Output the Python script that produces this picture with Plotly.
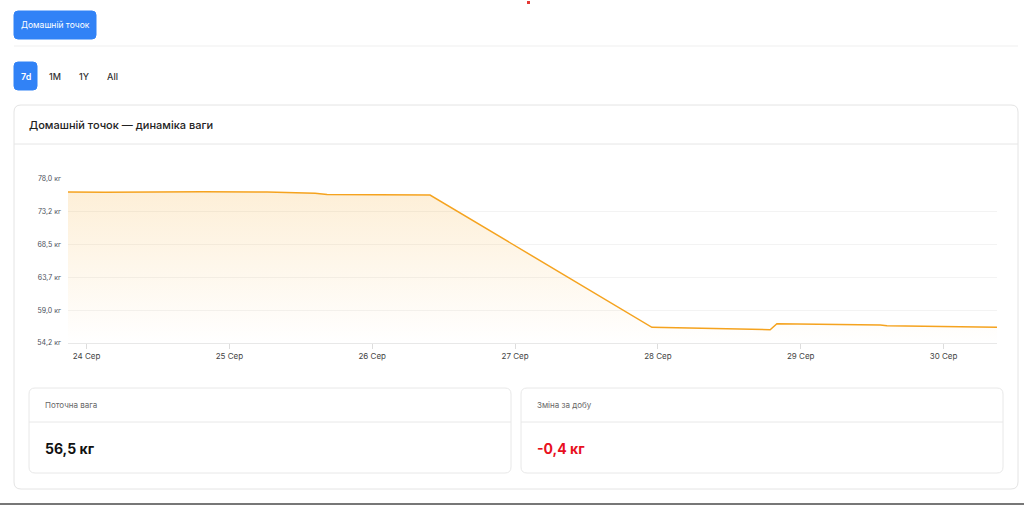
import plotly.graph_objects as go

# ---------------- data ----------------
times = [
    "2024-09-23 20:53", "2024-09-24 03:07", "2024-09-24 19:35", "2024-09-25 06:20",
    "2024-09-25 14:24", "2024-09-25 16:25", "2024-09-26 09:43", "2024-09-27 23:00",
    "2024-09-28 18:52", "2024-09-28 20:00", "2024-09-29 13:22", "2024-09-29 14:30",
    "2024-09-30 08:59",
]
weights = [76.11, 76.08, 76.16, 76.11, 75.92, 75.75, 75.68, 56.47,
           56.13, 57.00, 56.81, 56.71, 56.47]

y_tick_vals = [54.2, 58.96, 63.72, 68.48, 73.24, 78.0]
y_tick_text = ["54,2 кг", "59,0 кг", "63,7 кг", "68,5 кг", "73,2 кг", "78,0 кг"]
x_tick_vals = ["2024-09-24", "2024-09-25", "2024-09-26", "2024-09-27",
               "2024-09-28", "2024-09-29", "2024-09-30"]
x_tick_text = ["24 Сер", "25 Сер", "26 Сер", "27 Сер", "28 Сер", "29 Сер", "30 Сер"]
y_range = [54.2, 78.0]
x_range = ["2024-09-23 20:53", "2024-09-30 08:59"]

title_text = "Домашній точок — динаміка ваги"
device_button = "Домашній точок"
tabs = ["7d", "1M", "1Y", "All"]
stat_labels = ["Поточна вага", "Зміна за добу"]
stat_values = ["56,5 кг", "-0,4 кг"]

# ---------------- geometry helpers ----------------
W, H = 1024, 505
PL, PR, PT, PB = 68, 997, 179, 343


def px(x):
    return (x - PL) / (PR - PL)


def py(y):
    return (PB - y) / (PB - PT)


def rrect(x0, y0, x1, y1, r, fill="white", line="#e6e6e6", lw=1):
    X0, X1 = px(x0), px(x1)
    Y0, Y1 = py(y0), py(y1)  # Y0 top (bigger)
    rx = r / (PR - PL)
    ry = r / (PB - PT)
    path = (f"M{X0 + rx},{Y0} L{X1 - rx},{Y0} Q{X1},{Y0} {X1},{Y0 - ry} "
            f"L{X1},{Y1 + ry} Q{X1},{Y1} {X1 - rx},{Y1} L{X0 + rx},{Y1} "
            f"Q{X0},{Y1} {X0},{Y1 + ry} L{X0},{Y0 - ry} Q{X0},{Y0} {X0 + rx},{Y0} Z")
    return dict(type="path", xref="paper", yref="paper", path=path,
                fillcolor=fill, line=dict(color=line, width=lw), layer="below")


def hline(x0, x1, y, color="#ececec", w=1):
    return dict(type="line", xref="paper", yref="paper", x0=px(x0), x1=px(x1),
                y0=py(y), y1=py(y), line=dict(color=color, width=w), layer="below")


def text(x, y, s, size=9, color="#333", xanchor="left", weight=400, family="Inter"):
    if xanchor == "left":
        x -= 2
    return dict(xref="paper", yref="paper", x=px(x), y=py(y), text=s, showarrow=False,
                xanchor=xanchor, yanchor="middle",
                font=dict(size=size, color=color, family=family, weight=weight))


BLUE = "#3182f6"
shapes = [
    rrect(14, 11, 96, 39, 4, fill=BLUE, line=BLUE),
    hline(14, 1018, 46, "#efefef"),
    rrect(14, 62, 37, 90, 4, fill=BLUE, line=BLUE),
    rrect(14, 105, 1018, 489, 7, fill="white", line="#e4e4e4"),
    hline(14, 1018, 144, "#e6e6e6"),
    rrect(29, 388, 511, 473, 6, fill="white", line="#e8e8e8"),
    hline(29, 511, 422, "#e8e8e8"),
    rrect(521, 388, 1003, 473, 6, fill="white", line="#e8e8e8"),
    hline(521, 1003, 422, "#e8e8e8"),
    hline(0, 1024, 504, "#777777", 2),
    dict(type="rect", xref="paper", yref="paper", x0=px(527), x1=px(530),
         y0=py(4), y1=py(1), fillcolor="#e53935", line=dict(width=0)),
]

annotations = [
    text(55, 25, device_button, 8.5, "white", "center", 400),
    text(25.5, 76, tabs[0], 9, "white", "center", 600),
    text(55, 76, tabs[1], 9, "#333", "center", 500),
    text(84, 76, tabs[2], 9, "#333", "center", 500),
    text(112.5, 76, tabs[3], 9, "#333", "center", 500),
    text(29, 125, title_text, 11, "#222", "left", 500),
    text(45, 405, stat_labels[0], 8, "#666", "left", 400),
    text(45, 448, stat_values[0], 14, "#111", "left", 700),
    text(537, 405, stat_labels[1], 8, "#666", "left", 400),
    text(537, 448, stat_values[1], 14, "#e8101e", "left", 700),
]

fig = go.Figure()
fig.add_trace(go.Scatter(x=times, y=[y_range[0]] * len(times), mode="lines",
                         line=dict(width=0, color="rgba(0,0,0,0)"),
                         hoverinfo="skip", showlegend=False))
fig.add_trace(go.Scatter(
    x=times, y=weights, mode="lines", fill="tonexty",
    line=dict(color="#f5a31f", width=1.5),
    fillgradient=dict(type="vertical",
                      colorscale=[[0, "rgba(245,166,35,0.0)"],
                                  [1, "rgba(245,166,35,0.18)"]]),
    showlegend=False))

fig.update_layout(
    width=W, height=H, autosize=False,
    margin=dict(l=PL, r=W - PR, t=PT, b=H - PB, pad=0),
    paper_bgcolor="white", plot_bgcolor="white",
    font=dict(family="Inter", size=7, color="#555"),
    shapes=shapes, annotations=annotations,
    xaxis=dict(type="date", range=x_range, tickvals=x_tick_vals, ticktext=x_tick_text,
               showgrid=False, showline=True, linecolor="#e8e8e8", linewidth=1,
               ticks="outside", ticklen=5, tickcolor="#dddddd",
               tickfont=dict(size=8, color="#444"), zeroline=False, fixedrange=True),
    yaxis=dict(range=y_range, tickvals=y_tick_vals, ticktext=y_tick_text,
               showgrid=True, gridcolor="#f3f3f3", gridwidth=1, zeroline=False,
               showline=False, ticks="", ticklabelstandoff=6,
               tickfont=dict(size=7, color="#4a4f5a"), fixedrange=True),
)

fig.write_html("out.html", config=dict(displayModeBar=False),
               post_script="document.body.style.margin='0';document.body.style.overflow='hidden';")
